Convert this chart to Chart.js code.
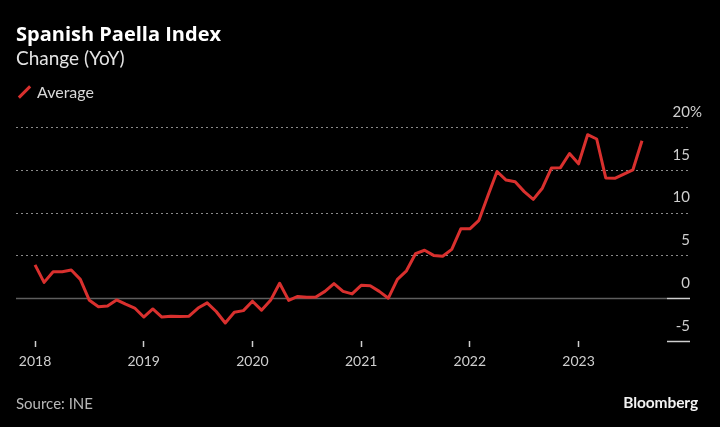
<!DOCTYPE html>
<html>
<head>
<meta charset="utf-8">
<script src="https://cdn.jsdelivr.net/npm/chart.js@4.4.0/dist/chart.umd.min.js"></script>
<style>
  html, body { margin: 0; padding: 0; background: #000; }
  #wrap { position: relative; width: 720px; height: 427px; background: #000; overflow: hidden; font-family: Lato, "Open Sans", sans-serif; }
  canvas { position: absolute; left: 0; top: 0; }
  .t { position: absolute; white-space: nowrap; }
  #title { left: 16px; top: 20px; font-family: "Open Sans", Lato, sans-serif; font-size: 20px; font-weight: 700; color: #fff; }
  #subtitle { left: 16px; top: 46px; font-size: 19px; color: #e4e4e4; }
  #legend { left: 16px; top: 82px; font-size: 16px; color: #d8d8d8; }
  #legend .sw { display: inline-block; width: 3px; height: 16px; background: #d9302e; transform: rotate(45deg); margin: 0 11px 0 7px; vertical-align: -2px; }
  #source { left: 16px; top: 394px; font-size: 15px; color: #b8b8b8; }
  #brand { right: 22px; top: 393px; font-size: 15.5px; font-weight: 700; color: #f2f2f2; letter-spacing: -0.1px; }
</style>
</head>
<body>
<div id="wrap">
  <canvas id="c" width="720" height="427"></canvas>
  <div class="t" id="title">Spanish Paella Index</div>
  <div class="t" id="subtitle">Change (YoY)</div>
  <div class="t" id="legend"><span class="sw"></span>Average</div>
  <div class="t" id="source">Source: INE</div>
  <div class="t" id="brand">Bloomberg</div>
</div>
<script>
// Monthly periods, Jan 2018 .. Aug 2023
const months = [];
for (let y = 2018; y <= 2023; y++) {
  for (let m = 1; m <= 12; m++) {
    if (y === 2023 && m > 8) break;
    months.push(y + '-' + String(m).padStart(2, '0'));
  }
}
// YoY change, %
const averageChange = [
  3.9, 1.85, 3.1, 3.1, 3.3, 2.2, -0.25, -1.0, -0.9, -0.2, -0.7, -1.15,
  -2.2, -1.26, -2.2, -2.1, -2.15, -2.1, -1.15, -0.55, -1.55, -2.9, -1.65, -1.45,
  -0.35, -1.4, -0.25, 1.75, -0.25, 0.2, 0.1, 0.15, 0.8, 1.7, 0.8, 0.5,
  1.5, 1.45, 0.8, 0.0, 2.2, 3.2, 5.2, 5.6, 5.0, 4.9, 5.7, 8.1,
  8.1, 9.1, 12.0, 14.8, 13.8, 13.6, 12.45, 11.55, 12.85, 15.2, 15.25, 16.9,
  15.7, 19.1, 18.6, 14.05, 14.0, 14.5, 15.0, 18.4
];
const yearLabels = ['2018', '2019', '2020', '2021', '2022', '2023'];
const yTicks = [-5, 0, 5, 10, 15, 20];

const points = averageChange.map((v, i) => ({ x: i, y: v }));
const yearTickValues = yearLabels.map(l => months.indexOf(l + '-01'));

const gridPlugin = {
  id: 'bbgGrid',
  beforeDatasetsDraw(chart) {
    const { ctx, chartArea, scales } = chart;
    const ys = scales.y;
    ctx.save();
    yTicks.forEach(v => {
      const py = Math.round(ys.getPixelForValue(v)) + 0.5;
      if (v === 0) {
        ctx.setLineDash([]);
        ctx.strokeStyle = '#5e5e5e';
        ctx.lineWidth = 1.5;
        ctx.beginPath(); ctx.moveTo(chartArea.left, py); ctx.lineTo(chartArea.right - 23, py); ctx.stroke();
        ctx.strokeStyle = '#cfcfcf';
        ctx.beginPath(); ctx.moveTo(chartArea.right - 23, py); ctx.lineTo(chartArea.right, py); ctx.stroke();
      } else if (v === yTicks[0]) {
        ctx.setLineDash([]);
        ctx.strokeStyle = '#cfcfcf';
        ctx.lineWidth = 1.5;
        ctx.beginPath(); ctx.moveTo(chartArea.right - 23, py); ctx.lineTo(chartArea.right, py); ctx.stroke();
      } else {
        ctx.setLineDash([2, 3]);
        ctx.strokeStyle = '#8a8a8a';
        ctx.lineWidth = 1;
        ctx.beginPath(); ctx.moveTo(chartArea.left, py); ctx.lineTo(chartArea.right - 2, py); ctx.stroke();
      }
    });
    ctx.restore();
  },
  afterDraw(chart) {
    const { ctx, chartArea, scales } = chart;
    const ys = scales.y;
    const top = yTicks[yTicks.length - 1];
    ctx.save();
    ctx.font = '15px Lato, "Open Sans", sans-serif';
    ctx.fillStyle = '#cfcfcf';
    ctx.textAlign = 'left';
    ctx.textBaseline = 'middle';
    ctx.fillText('%', chartArea.right, ys.getPixelForValue(top) - 15);
    ctx.restore();
  }
};

new Chart(document.getElementById('c'), {
  type: 'line',
  data: {
    datasets: [{
      label: 'Average',
      data: points,
      borderColor: '#d9302e',
      borderWidth: 3,
      pointRadius: 0,
      tension: 0,
      borderJoinStyle: 'round',
      borderCapStyle: 'butt'
    }]
  },
  options: {
    responsive: false,
    animation: false,
    events: [],
    layout: { padding: { left: 16, top: 127, right: 30, bottom: 56 } },
    plugins: { legend: { display: false }, tooltip: { enabled: false }, title: { display: false } },
    scales: {
      x: {
        type: 'linear',
        min: -2.1,
        max: 72.3,
        border: { display: false },
        grid: { drawOnChartArea: false, drawTicks: true, tickLength: 6, tickColor: '#cfcfcf', tickWidth: 1.5 },
        afterBuildTicks: s => { s.ticks = yearTickValues.map(v => ({ value: v })); },
        afterFit: s => { s.height = 30; },
        ticks: {
          autoSkip: false,
          maxRotation: 0,
          padding: 6,
          color: '#cfcfcf',
          font: { family: 'Lato, "Open Sans", sans-serif', size: 14 },
          callback: (v) => yearLabels[yearTickValues.indexOf(v)]
        }
      },
      y: {
        position: 'right',
        min: yTicks[0],
        max: yTicks[yTicks.length - 1],
        border: { display: false },
        grid: { display: false, drawTicks: false },
        afterBuildTicks: s => { s.ticks = yTicks.map(v => ({ value: v })); },
        afterFit: s => { s.width = 0; },
        ticks: {
          mirror: true,
          padding: 0,
          labelOffset: -15,
          color: '#cfcfcf',
          font: { family: 'Lato, "Open Sans", sans-serif', size: 15 },
          callback: v => String(v)
        }
      }
    }
  },
  plugins: [gridPlugin]
});
</script>
</body>
</html>
